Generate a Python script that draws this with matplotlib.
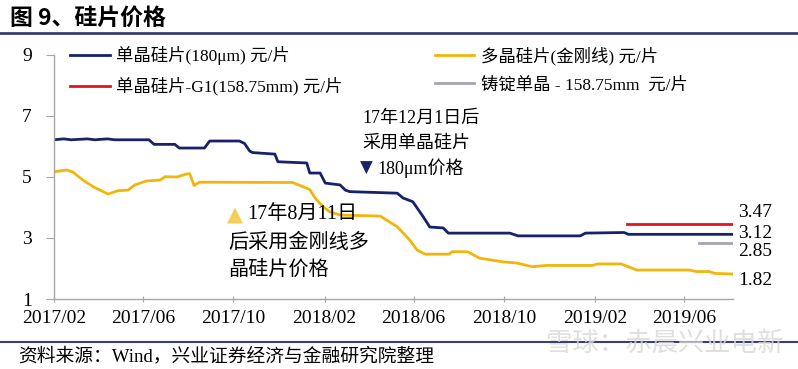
import pandas as pd
import matplotlib
matplotlib.use('Agg')
import matplotlib.pyplot as plt
import matplotlib.dates as mdates
from matplotlib.lines import Line2D

# 数据
mono_dates = ['2017-02-01', '2017-02-14', '2017-02-24', '2017-03-18', '2017-03-28', '2017-04-14',
              '2017-04-24', '2017-06-09', '2017-06-16', '2017-07-14', '2017-07-20', '2017-08-23',
              '2017-08-30', '2017-10-09', '2017-10-16', '2017-10-23', '2017-10-27', '2017-11-26',
              '2017-11-30', '2018-01-08', '2018-01-12', '2018-01-26', '2018-02-02', '2018-02-22',
              '2018-03-01', '2018-03-07', '2018-05-10', '2018-05-18', '2018-05-31', '2018-06-14',
              '2018-06-23', '2018-07-11', '2018-07-18', '2018-10-09', '2018-10-20', '2019-01-12',
              '2019-01-19', '2019-03-12', '2019-03-18', '2019-08-05']
mono_vals = [6.22, 6.25, 6.22, 6.25, 6.22, 6.25, 6.22, 6.22, 6.07, 6.07, 5.95, 5.95,
             6.18, 6.18, 6.10, 5.85, 5.80, 5.75, 5.50, 5.46, 5.13, 5.13, 4.80, 4.74,
             4.57, 4.52, 4.47, 4.31, 4.19, 3.70, 3.36, 3.33, 3.16, 3.16, 3.07, 3.07,
             3.16, 3.18, 3.12, 3.12]

poly_dates = ['2017-02-01', '2017-02-18', '2017-02-26', '2017-03-12', '2017-03-26', '2017-04-15',
              '2017-04-28', '2017-05-12', '2017-05-21', '2017-06-06', '2017-06-24', '2017-07-01',
              '2017-07-17', '2017-07-30', '2017-08-03', '2017-08-09', '2017-08-16', '2017-12-20',
              '2018-01-12', '2018-01-19', '2018-01-29', '2018-02-08', '2018-02-22', '2018-04-17',
              '2018-05-10', '2018-05-27', '2018-06-06', '2018-06-17', '2018-07-19', '2018-07-23',
              '2018-08-13', '2018-08-29', '2018-09-29', '2018-10-18', '2018-11-08', '2018-11-27',
              '2019-01-28', '2019-02-04', '2019-03-08', '2019-03-29', '2019-06-08', '2019-06-18',
              '2019-07-05', '2019-07-12', '2019-08-05']
poly_vals = [5.17, 5.23, 5.17, 4.90, 4.68, 4.44, 4.55, 4.57, 4.74, 4.87, 4.90, 5.01,
             5.00, 5.10, 5.11, 4.72, 4.83, 4.82, 4.59, 4.32, 4.05, 3.86, 3.75, 3.72,
             3.37, 2.93, 2.60, 2.47, 2.47, 2.55, 2.55, 2.34, 2.22, 2.18, 2.06, 2.10,
             2.10, 2.15, 2.15, 1.95, 1.95, 1.90, 1.90, 1.84, 1.82]

g1_dates = ['2019-03-16', '2019-08-05']
g1_vals = [3.47, 3.47]

cast_dates = ['2019-06-21', '2019-08-05']
cast_vals = [2.85, 2.85]

labels = ['单晶硅片(180μm) 元/片', '单晶硅片-G1(158.75mm) 元/片',
          '多晶硅片(金刚线) 元/片', '铸锭单晶 - 158.75mm  元/片']
end_labels = ['3.47', '3.12', '2.85', '1.82']
end_label_y = [3.82, 3.15, 2.55, 1.60]

C_BLUE = '#17226b'
C_YEL = '#f2b50c'
C_RED = '#e3141e'
C_GRAY = '#a3a3b8'

FAM = ['Liberation Serif', 'Noto Sans CJK SC', 'DejaVu Sans']
plt.rcParams['font.family'] = FAM

W, H = 798, 369
fig = plt.figure(figsize=(W / 100, H / 100), dpi=100)
ax = fig.add_axes([54 / W, 1 - 299 / H, (733 - 54) / W, (299 - 55) / H])


def fx(px):
    return px / W


def fy(py):
    return 1 - py / H


l1, = ax.plot(pd.to_datetime(mono_dates), mono_vals, color=C_BLUE, lw=2.0)
l2, = ax.plot(pd.to_datetime(g1_dates), g1_vals, color=C_RED, lw=2.0)
l3, = ax.plot(pd.to_datetime(poly_dates), poly_vals, color=C_YEL, lw=2.0)
l4, = ax.plot(pd.to_datetime(cast_dates), cast_vals, color=C_GRAY, lw=2.0)

ax.set_xlim(pd.Timestamp('2017-02-01'), pd.Timestamp('2019-08-06'))
ax.set_ylim(1, 9)
ax.set_yticks([1, 3, 5, 7, 9])
ax.xaxis.set_major_locator(mdates.MonthLocator(bymonth=[2, 6, 10]))
ax.xaxis.set_major_formatter(mdates.DateFormatter('%Y/%m'))

for s in ['top', 'right']:
    ax.spines[s].set_visible(False)
for s in ['left', 'bottom']:
    ax.spines[s].set_color('#a6a6a6')
    ax.spines[s].set_linewidth(1.0)
ax.tick_params(axis='y', length=6, color='#a6a6a6', labelsize=14, pad=10)
ax.tick_params(axis='x', length=4, direction='inout', color='#a6a6a6', labelsize=14, pad=6)

# 图例
leg = ax.legend([l1, l2, l3, l4], labels, ncol=2, frameon=False,
                loc='upper left', bbox_to_anchor=(fx(70), fy(46)),
                bbox_transform=fig.transFigure, borderpad=0, borderaxespad=0,
                handlelength=2.3, handletextpad=0.35, columnspacing=5.3,
                labelspacing=0.7, prop={'family': FAM, 'size': 12.5})

# 右侧数值标签
for t, yv in zip(end_labels, end_label_y):
    ax.text(1.008, yv, t, transform=ax.get_yaxis_transform(), fontsize=14,
            va='center', ha='left', clip_on=False)

# 注释
fig.text(fx(362), fy(118), '17年12月1日后', fontsize=13, va='center')
fig.text(fx(362), fy(143), '采用单晶硅片', fontsize=13, va='center')
fig.text(fx(360), fy(168), '▼', fontsize=12, va='center', color=C_BLUE, family='DejaVu Sans')
fig.text(fx(377), fy(168), '180μm价格', fontsize=13, va='center')

fig.text(fx(227), fy(215), '▲', fontsize=15, va='center', color='#f5cf5a', family='DejaVu Sans')
fig.text(fx(247), fy(215), '17年8月11日', fontsize=14.5, va='center')
fig.text(fx(228), fy(243), '后采用金刚线多', fontsize=14.5, va='center')
fig.text(fx(228), fy(270), '晶硅片价格', fontsize=14.5, va='center')

# 标题和分隔线
fig.text(fx(10), fy(18), '图 9、硅片价格', fontsize=16.5, fontweight='bold', va='center',
         family=['Noto Sans CJK SC', 'DejaVu Sans'])
fig.add_artist(Line2D([0, 1], [fy(33), fy(33)], transform=fig.transFigure,
                      color='#3c3c78', lw=2))
fig.add_artist(Line2D([0, 1], [fy(342), fy(342)], transform=fig.transFigure,
                      color='#3c3c78', lw=1.5))
fig.text(fx(18), fy(356), '资料来源：Wind，兴业证券经济与金融研究院整理', fontsize=13.5, va='center')
fig.text(fx(546), fy(343), '雪球：赤晨兴业电新', fontsize=19, va='center',
         color='#d8d8d8', alpha=0.8, family=['Noto Sans CJK SC', 'DejaVu Sans'])

fig.savefig('out.png', dpi=100)
